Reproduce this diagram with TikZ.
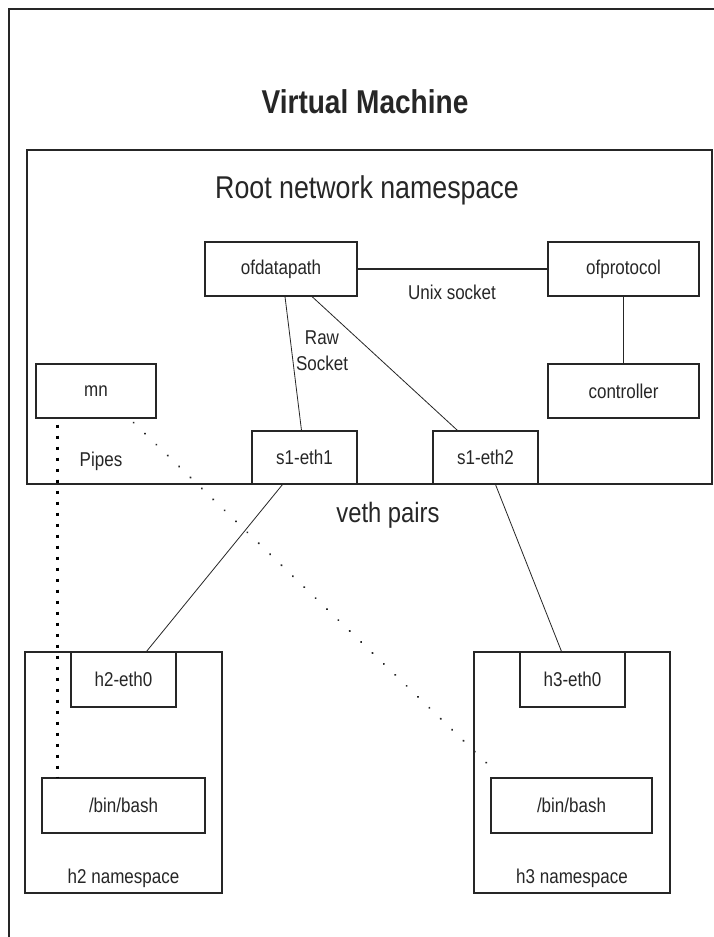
\documentclass[tikz,border=0pt]{standalone}
\usepackage{fontspec}
\setmainfont{Liberation Sans}[FakeStretch=0.85]
\usetikzlibrary{calc}
\definecolor{ink}{HTML}{262626}
\tikzset{
  box/.style={draw=ink, line width=1.1pt, inner sep=0pt, text=ink,
              font=\fontsize{20}{24}\selectfont},
  lbl/.style={inner sep=0pt, text=ink, font=\fontsize{20}{26}\selectfont},
  link/.style={draw=ink, line width=0.8pt},
  thicklink/.style={draw=ink, line width=1.2pt},
  pipe/.style={draw=black, line width=2.8pt, dash pattern=on 3pt off 8pt},
  finedots/.style={draw=ink, line width=2pt, line cap=round, dash pattern=on 0.3pt off 15.5pt},
}
\begin{document}
\begin{tikzpicture}[x=1pt, y=-1pt]
  \useasboundingbox (0,0) rectangle (714,937);
  \fill[white] (0,0) rectangle (714,937);

  % outer virtual machine frame (runs off the page at right and bottom)
  \draw[ink, line width=1.5pt] (716,9) -- (9,9) -- (9,940);
  \node[inner sep=0pt, text=ink, font=\fontsize{33}{38}\selectfont\bfseries] (title) at (365,102) {Virtual Machine};

  % root network namespace
  \draw[ink, line width=1.3pt] (27,150) rectangle (712,484);
  \node[inner sep=0pt, text=ink, font=\fontsize{31.5}{36}\selectfont] (rootlbl) at (367,190) {Root network namespace};

  \node[box, minimum width=152pt, minimum height=54pt] (ofdp) at (281,269) {ofdatapath};
  \node[box, minimum width=151pt, minimum height=54pt] (ofproto) at (623.5,269) {ofprotocol};
  \node[box, minimum width=151pt, minimum height=54pt] (ctrl) at (623.5,391) {controller};
  \node[box, minimum width=120pt, minimum height=54pt] (mn) at (96,391) {mn};
  \node[box, minimum width=105pt, minimum height=53pt] (s1e1) at (304.5,457.5) {s1-eth1};
  \node[box, minimum width=105pt, minimum height=53pt] (s1e2) at (485.5,457.5) {s1-eth2};

  \node[lbl] (unixlbl) at (452,292) {Unix socket};
  \node[lbl, align=center] (rawlbl) at (322,351) {Raw\\Socket};
  \node[lbl] (pipelbl) at (101,461) {Pipes};
  \node[inner sep=0pt, text=ink, font=\fontsize{28}{32}\selectfont] (vethlbl) at (388,515) {veth pairs};

  % h2 namespace
  \node[box, minimum width=197pt, minimum height=241pt] (h2ns) at (123.5,772.5) {};
  \node[box, minimum width=105pt, minimum height=55pt] (h2e0) at (123.5,679.5) {h2-eth0};
  \node[box, minimum width=163pt, minimum height=55pt] (bash2) at (123.5,805.5) {/bin/bash};
  \node[lbl] (h2lbl) at (123.5,878) {h2 namespace};

  % h3 namespace
  \node[box, minimum width=196pt, minimum height=241pt] (h3ns) at (572,772.5) {};
  \node[box, minimum width=105pt, minimum height=55pt] (h3e0) at (572.5,679.5) {h3-eth0};
  \node[box, minimum width=161pt, minimum height=55pt] (bash3) at (571.5,805.5) {/bin/bash};
  \node[lbl] (h3lbl) at (572,878) {h3 namespace};

  % connectors
  \draw[thicklink] (ofdp.east) -- (ofproto.west);
  \draw[thicklink] (ofproto.south) -- (ctrl.north);
  \draw[link] ($(ofdp.south)+(4,0)$) -- ($(s1e1.north)+(-3,0)$);
  \draw[link] ($(ofdp.south)+(31,0)$) -- ($(s1e2.north)+(-28,0)$);
  \draw[link] ($(s1e1.south)+(-22,0)$) -- ($(h2e0.north)+(23,0)$);
  \draw[link] ($(s1e2.south)+(10,0)$) -- ($(h3e0.north)+(-11,0)$);

  % pipes from mn into the host shells
  \coordinate (pipeA) at ($(mn.south west)+(22,6)$);
  \coordinate (pipeB) at ($(bash2.north west)+(16,0)$);
  \draw[pipe] (pipeA) -- (pipeB);
  \coordinate (dotA) at ($(mn.south east)+(-23,4)$);
  \coordinate (dotB) at ($(bash3.north west)+(7,-4)$);
  \draw[finedots] (dotA) -- (dotB);
\end{tikzpicture}
\end{document}
